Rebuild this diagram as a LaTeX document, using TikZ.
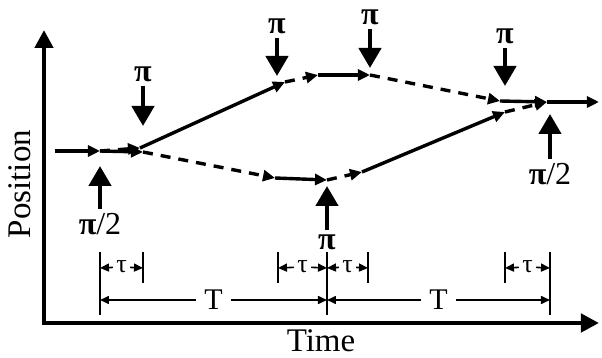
\documentclass[tikz,border=0pt]{standalone}
\usepackage{fontspec}
\setmainfont{Liberation Serif}
\usetikzlibrary{arrows.meta}

\begin{document}
\begin{tikzpicture}[
        x=0.5pt, y=-0.5pt,
        axis/.style={line width=2.2pt, line join=miter,
                     {Triangle[length=9pt,width=9pt]}-{Triangle[length=9pt,width=9pt]}},
        beam/.style={line width=1.7pt, -{Triangle[length=6pt,width=5.5pt]}},
        dbeam/.style={beam, dash pattern=on 5pt off 4pt},
        pulse/.style={line width=2.2pt, -{Triangle[length=10pt,width=11pt]}},
        plbl/.style={font=\fontsize{16}{16}\selectfont, inner sep=2pt},
        bar/.style={line width=1.4pt},
        dim/.style={line width=0.8pt, -{Triangle[length=4.5pt,width=4pt]}},
        taulbl/.style={font=\fontsize{13}{13}\selectfont, inner sep=1.5pt},
        Tlbl/.style={font=\fontsize{15}{15}\selectfont, inner sep=4pt},
        axlbl/.style={font=\fontsize{16.5}{16.5}\selectfont, inner sep=0pt},
    ]
    \useasboundingbox (0,0) rectangle (602,358);

    % axes
    \coordinate (ytip) at (44,30);
    \coordinate (orig) at (44,323);
    \coordinate (xtip) at (599,323);
    \draw[axis] (ytip) -- (orig) -- (xtip);
    \node[axlbl, rotate=90] (ylab) at (20,184) {Position};
    \node[axlbl] (xlab) at (321,341) {Time};

    % beam kinks
    \coordinate (in)  at (55,151);
    \coordinate (s)   at (100,151);
    \coordinate (u1)  at (140,148);
    \coordinate (u2)  at (285,82);
    \coordinate (u3)  at (318,75);
    \coordinate (u4)  at (370,75);
    \coordinate (u5)  at (500,101);
    \coordinate (l1)  at (143,152);
    \coordinate (l2)  at (275,178);
    \coordinate (l3)  at (327,180);
    \coordinate (l4)  at (362,172);
    \coordinate (l5)  at (505,112);
    \coordinate (m)   at (547,102);
    \coordinate (out) at (599,102);

    \draw[beam]  (in) -- (s);
    % upper arm
    \draw[dbeam] (s)  -- (u1);
    \draw[beam]  (u1) -- (u2);
    \draw[dbeam] (u2) -- (u3);
    \draw[beam]  (u3) -- (u4);
    \draw[dbeam] (u4) -- (u5);
    \draw[beam]  (u5) -- (m);
    % lower arm
    \draw[beam]  (s)  -- (l1);
    \draw[dbeam] (l1) -- (l2);
    \draw[beam]  (l2) -- (l3);
    \draw[dbeam] (l3) -- (l4);
    \draw[beam]  (l4) -- (l5);
    \draw[dbeam] (l5) -- (m);
    \draw[beam]  (m)  -- (out);

    % laser pulses
    \node[plbl] (pa) at (100,224) {\textbf{π}/2};
    \node[plbl] (pb) at (143,74)  {\textbf{π}};
    \node[plbl] (pc) at (277,26)  {\textbf{π}};
    \node[plbl] (pd) at (327,242) {\textbf{π}};
    \node[plbl] (pe) at (370,17)  {\textbf{π}};
    \node[plbl] (pf) at (505,36)  {\textbf{π}};
    \node[plbl] (pg) at (550,174) {\textbf{π}/2};
    \coordinate (ta) at (100,166);
    \coordinate (tb) at (143,126);
    \coordinate (tc) at (277,76);
    \coordinate (td) at (327,186);
    \coordinate (te) at (370,68);
    \coordinate (tf) at (505,86);
    \coordinate (tg) at (550,114);
    \draw[pulse] (pa) -- (ta);
    \draw[pulse] (pb) -- (tb);
    \draw[pulse] (pc) -- (tc);
    \draw[pulse] (pd) -- (td);
    \draw[pulse] (pe) -- (te);
    \draw[pulse] (pf) -- (tf);
    \draw[pulse] (pg) -- (tg);

    % timing bars
    \foreach \x/\b in {100/315, 143/283, 278/283, 327/315, 368/283, 505/283, 550/315}
        \draw[bar] (\x,252) -- (\x,\b);

    % tau and T spans
    \foreach \i/\a/\b in {1/100/143, 2/278/327, 3/327/368, 4/505/550} {
        \node[taulbl] (tau\i) at ({(\a+\b)/2},267) {τ};
        \coordinate (tl\i) at (\a,268);
        \coordinate (tr\i) at (\b,268);
        \draw[dim] (tau\i) -- (tl\i);
        \draw[dim] (tau\i) -- (tr\i);
    }
    \foreach \i/\a/\b in {1/100/327, 2/327/550} {
        \node[Tlbl] (T\i) at ({(\a+\b)/2},300) {T};
        \coordinate (Tl\i) at (\a,300);
        \coordinate (Tr\i) at (\b,300);
        \draw[dim] (T\i) -- (Tl\i);
        \draw[dim] (T\i) -- (Tr\i);
    }
\end{tikzpicture}
\end{document}
